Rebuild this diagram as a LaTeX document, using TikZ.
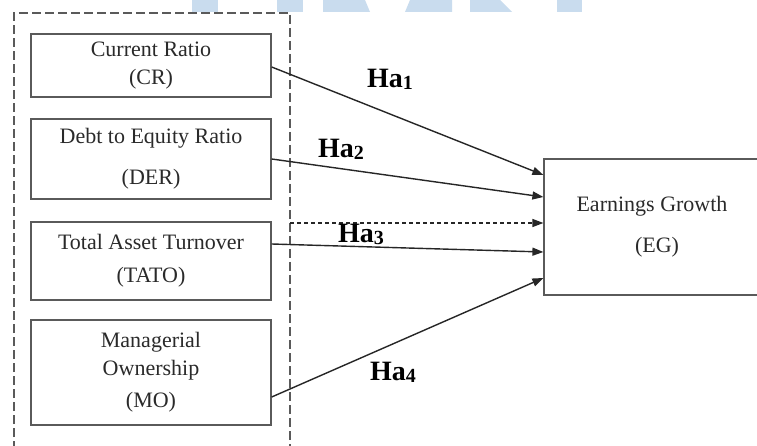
\documentclass[tikz,border=0pt]{standalone}
\usepackage{fontspec}
\setmainfont{Liberation Serif}
\usetikzlibrary{arrows.meta,calc}
\definecolor{wm}{HTML}{C9DCEE}
\definecolor{boxc}{HTML}{5A5A5A}
\definecolor{txt}{HTML}{2A2A2A}
\begin{document}
\begin{tikzpicture}[x=1pt,y=-1pt,
  varbox/.style={draw=boxc, line width=1.4pt, minimum width=240pt, align=center,
    font=\fontsize{22}{26}\selectfont, text=txt, inner sep=0pt},
  egbox/.style={draw=boxc, line width=1.2pt, minimum width=216pt, minimum height=136pt,
    align=center, font=\fontsize{22}{26}\selectfont, text=txt, inner sep=0pt},
  frame/.style={draw=boxc, line width=1.4pt, dash pattern=on 9pt off 4pt},
  link/.style={draw=black!85, line width=1.4pt, -{Triangle[length=11pt,width=8pt]}},
  hlab/.style={font=\fontsize{28}{30}\selectfont\bfseries, text=black, inner sep=0pt, anchor=base west}]
\clip (0,0) rectangle (757,446);
\fill[white] (0,0) rectangle (757,446);
% watermark fragments
\fill[wm] (192,0) rectangle (218,12);
\fill[wm] (277,0) rectangle (303,12);
\fill[wm] (323,0) -- (365,0) -- (370,12) -- (323,12) -- cycle;
\fill[wm] (410,0) -- (452,0) -- (452,12) -- (405,12) -- cycle;
\fill[wm] (470,0) -- (500,0) -- (512,12) -- (470,12) -- cycle;
\fill[wm] (557,0) rectangle (582,12);
% dashed frame
\draw[frame] (14,450) -- (14,13) -- (290,13) -- (290,450);
\coordinate (fr) at (290,223);
% boxes
\node[varbox, minimum height=63pt] (CR) at (151,65.5) {Current Ratio\\[2pt](CR)};
\node[varbox, minimum height=80pt] (DER) at (151,159) {Debt to Equity Ratio\\[15pt](DER)};
\node[varbox, minimum height=78pt] (TATO) at (151,261) {Total Asset Turnover\\[7pt](TATO)};
\node[varbox, minimum height=105pt] (MO) at (151,372.5) {Managerial\\[2pt]Ownership\\[6pt](MO)};
\node[egbox] (EG) at (652,227) {Earnings Growth\\[15pt]\hspace*{10pt}(EG)};
% connectors
\draw[link] ([yshift=-1.5pt]CR.east) -- ([yshift=52pt]EG.west);
\draw[link] (DER.east) -- ([yshift=30pt]EG.west);
\draw[link, dash pattern=on 4pt off 3pt] (fr) -- ([yshift=4pt]EG.west);
\draw[link] ([yshift=17pt]TATO.east) -- ([yshift=-25pt]EG.west);
\draw[link] ([yshift=-24.5pt]MO.east) -- ([yshift=-51pt]EG.west);
% labels
\node[hlab] (h1) at (367,88) {Ha\raisebox{-2pt}{\fontsize{20}{20}\selectfont 1}};
\node[hlab] (h2) at (318,158) {Ha\raisebox{-2pt}{\fontsize{20}{20}\selectfont 2}};
\node[hlab] (h3) at (338,243) {Ha\raisebox{-2pt}{\fontsize{20}{20}\selectfont 3}};
\node[hlab] (h4) at (370,380) {Ha\raisebox{-2pt}{\fontsize{20}{20}\selectfont 4}};
\end{tikzpicture}
\end{document}
